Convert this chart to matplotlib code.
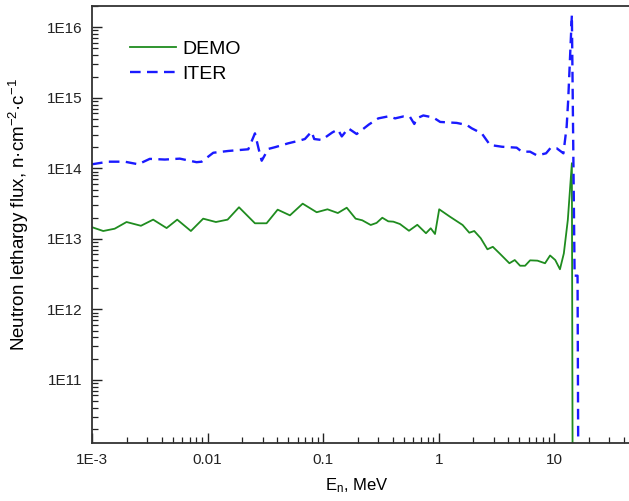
import numpy as np
import matplotlib
matplotlib.use("Agg")
import matplotlib.pyplot as plt
from matplotlib.ticker import FixedLocator, FixedFormatter, LogLocator, NullFormatter

plt.rcParams['font.family'] = ['Liberation Sans', 'DejaVu Sans']
plt.rcParams['mathtext.default'] = 'regular'

# neutron energy (MeV) and lethargy flux
demo_e = [1.0e-3, 1.25e-3, 1.57e-3, 1.99e-3, 2.65e-3, 3.38e-3, 4.42e-3, 5.46e-3, 7.17e-3, 9.16e-3,
          1.18e-2, 1.49e-2, 1.87e-2, 2.57e-2, 3.24e-2, 4.04e-2, 5.16e-2, 6.65e-2, 8.79e-2, 0.109,
          0.134, 0.160, 0.191, 0.218, 0.258, 0.290, 0.325, 0.366, 0.405, 0.462,
          0.553, 0.653, 0.776, 0.853, 0.929, 1.01, 1.25, 1.61, 1.84, 2.03,
          2.31, 2.64, 2.94, 3.40, 4.09, 4.55, 5.06, 5.59, 6.18, 7.15,
          8.32, 9.2, 10.2, 11.2, 12.1, 13.1, 14.2, 14.45]
demo_flux = [1.46e13, 1.29e13, 1.39e13, 1.73e13, 1.53e13, 1.87e13, 1.42e13, 1.87e13, 1.29e13, 1.93e13,
             1.73e13, 1.87e13, 2.80e13, 1.66e13, 1.66e13, 2.59e13, 2.15e13, 3.15e13, 2.38e13, 2.62e13,
             2.32e13, 2.76e13, 1.93e13, 1.83e13, 1.57e13, 1.68e13, 1.99e13, 1.77e13, 1.75e13, 1.62e13,
             1.30e13, 1.58e13, 1.20e13, 1.41e13, 1.17e13, 2.62e13, 2.06e13, 1.57e13, 1.22e13, 1.29e13,
             1.02e13, 7.1e12, 7.7e12, 6.1e12, 4.5e12, 5.0e12, 4.15e12, 4.15e12, 4.95e12, 4.9e12,
             4.5e12, 5.8e12, 5.0e12, 3.7e12, 6.2e12, 1.85e13, 1.18e14, 1e9]

iter_e = [1.0e-3, 1.38e-3, 1.92e-3, 2.51e-3, 3.16e-3, 4.27e-3, 5.75e-3, 8.03e-3, 8.88e-3, 1.12e-2,
          1.51e-2, 2.25e-2, 2.57e-2, 2.78e-2, 2.94e-2, 3.35e-2, 3.83e-2, 4.99e-2, 6.30e-2, 6.95e-2,
          7.94e-2, 8.37e-2, 9.7e-2, 0.120, 0.134, 0.145, 0.165, 0.195, 0.249, 0.300,
          0.371, 0.419, 0.494, 0.564, 0.615, 0.645, 0.736, 0.898, 1.03, 1.43,
          1.75, 1.93, 2.36, 2.78, 3.53, 4.73, 5.23, 6.17, 7.09, 8.49,
          9.33, 10.5, 12.0, 12.8, 13.2, 14.2, 15.0, 15.9, 16.2]
iter_flux = [1.14e14, 1.24e14, 1.24e14, 1.14e14, 1.36e14, 1.33e14, 1.37e14, 1.22e14, 1.24e14, 1.66e14,
             1.76e14, 1.86e14, 3.13e14, 1.82e14, 1.28e14, 1.88e14, 1.99e14, 2.26e14, 2.48e14, 2.6e14,
             3.31e14, 2.6e14, 2.52e14, 3.22e14, 3.55e14, 2.83e14, 3.69e14, 3.06e14, 4.18e14, 5.1e14,
             5.47e14, 5.1e14, 5.43e14, 5.36e14, 4.25e14, 5.1e14, 5.61e14, 5.25e14, 4.54e14, 4.4e14,
             4.11e14, 3.69e14, 3.12e14, 2.14e14, 2.02e14, 1.96e14, 1.72e14, 1.72e14, 1.52e14, 1.63e14,
             1.96e14, 1.92e14, 1.63e14, 3.89e14, 9.3e14, 1.49e16, 3.0e12, 3.0e12, 1e9]

x_ticks = [1e-3, 1e-2, 1e-1, 1, 10]
x_tick_labels = ["1E-3", "0.01", "0.1", "1", "10"]
y_ticks = [1e11, 1e12, 1e13, 1e14, 1e15, 1e16]
y_tick_labels = ["1E11", "1E12", "1E13", "1E14", "1E15", "1E16"]

fig = plt.figure(figsize=(6.29, 5.01), dpi=100)
ax = fig.add_axes([0.1463, 0.1152, 0.8633, 0.8728])

ax.plot(demo_e, demo_flux, color="#1f8c1f", lw=1.3, label="DEMO")
ax.plot(iter_e, iter_flux, color="#1a1aff", lw=1.7, dashes=(4.5, 2.7), label="ITER")

ax.set_xscale("log")
ax.set_yscale("log")
ax.set_xlim(1e-3, 50)
ax.set_ylim(1.26e10, 2.0e16)

ax.xaxis.set_major_locator(FixedLocator(x_ticks))
ax.xaxis.set_major_formatter(FixedFormatter(x_tick_labels))
ax.yaxis.set_major_locator(FixedLocator(y_ticks))
ax.yaxis.set_major_formatter(FixedFormatter(y_tick_labels))
ax.xaxis.set_minor_locator(LogLocator(base=10, subs=np.arange(2, 10), numticks=20))
ax.yaxis.set_minor_locator(LogLocator(base=10, subs=np.arange(2, 10), numticks=20))
ax.xaxis.set_minor_formatter(NullFormatter())
ax.yaxis.set_minor_formatter(NullFormatter())

ax.tick_params(which="both", direction="in", labelsize=11, colors="#222222",
               top=False, right=False)
ax.tick_params(which="major", length=7, width=1.0, pad=7)
ax.tick_params(which="minor", length=4, width=0.9)
for s in ax.spines.values():
    s.set_linewidth(1.3)
    s.set_color("#333333")

ax.set_xlabel("E$_{n}$, MeV", fontsize=12)
ax.set_ylabel("Neutron lethargy flux, n·cm$^{-2}$·c$^{-1}$", fontsize=13.5)
ax.xaxis.set_label_coords(0.487, -0.075)
ax.yaxis.set_label_coords(-0.113, 0.524)

ax.legend(loc="upper left", bbox_to_anchor=(0.07, 0.922), frameon=False, fontsize=14,
          handlelength=2.37, handletextpad=0.3, labelspacing=0.38, borderpad=0, borderaxespad=0)

fig.savefig("out.png", dpi=100)
